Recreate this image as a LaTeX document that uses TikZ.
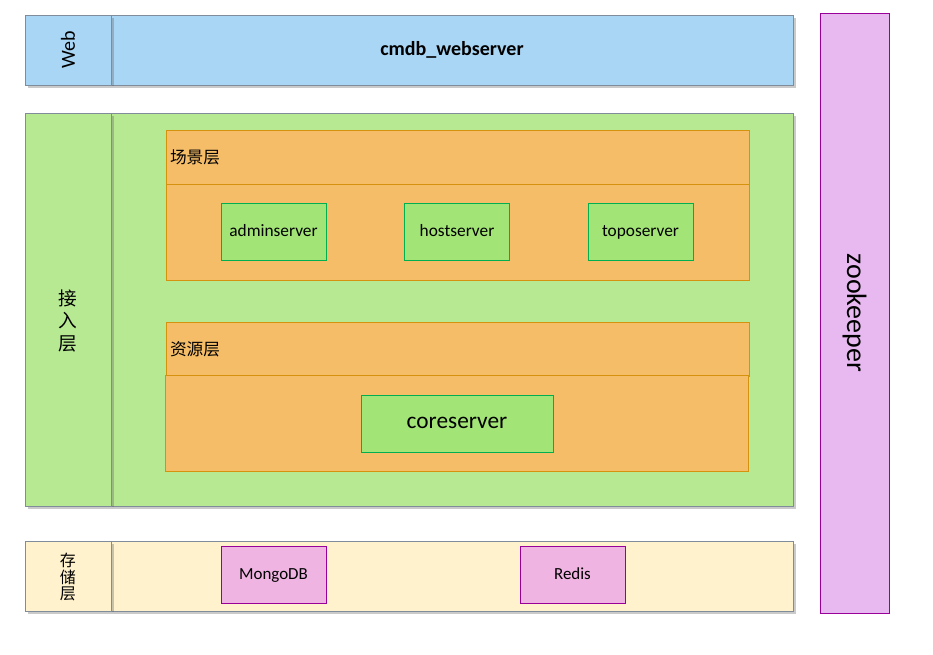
\documentclass[tikz,border=0pt]{standalone}
\usepackage{fontspec}
\setmainfont{Carlito}
\newfontfamily\cjk{Noto Sans CJK SC}
\usetikzlibrary{shadows}
\definecolor{webblue}{RGB}{169,214,245}
\definecolor{accgreen}{RGB}{183,232,146}
\definecolor{layerorange}{RGB}{245,189,104}
\definecolor{srvgreen}{RGB}{163,228,118}
\definecolor{storeyellow}{RGB}{255,242,204}
\definecolor{dbpink}{RGB}{239,180,226}
\definecolor{zkpink}{RGB}{232,185,240}
\definecolor{bandline}{RGB}{128,140,154}
\definecolor{orangeline}{RGB}{212,146,15}
\definecolor{srvline}{RGB}{0,176,80}
\definecolor{purpleline}{RGB}{153,0,153}
\newcommand*\labelwd{64.5pt}
\newcommand*\mainwd {511.5pt}
\newcommand*\layerwd{437.25pt}
\tikzset{
    band/.style      = {draw=bandline, inner sep=0pt, outer sep=0pt,
                        drop shadow={shadow xshift=2.5pt, shadow yshift=-2.5pt,
                                     opacity=0.35, fill=black!60}},
    bandlabel/.style = {band, minimum width=\labelwd},
    bandmain/.style  = {band, minimum width=\mainwd},
    layer/.style     = {draw=orangeline, fill=layerorange, inner sep=0pt,
                        minimum width=\layerwd},
    layertitle/.style= {anchor=west, inner sep=3pt, font=\cjk\fontsize{12.5}{14}\selectfont},
    server/.style    = {draw=srvline, fill=srvgreen, minimum width=78.75pt,
                        minimum height=42.75pt, inner sep=0pt,
                        text height=2ex, text depth=0.3ex,
                        font=\fontsize{13}{15}\selectfont},
    store/.style     = {server, draw=purpleline, fill=dbpink,
                        font=\fontsize{12.7}{15}\selectfont},
  }
\begin{document}
\begin{tikzpicture}[x=0.75pt,y=-0.75pt]
      \useasboundingbox (0,0) rectangle (933,655);

      % Web band
      \node (webmain) [bandmain, fill=webblue, minimum height=52.5pt,
        font=\bfseries\fontsize{15}{17}\selectfont] at (452,50) {cmdb\_webserver};
      \node (weblabel) [bandlabel, fill=webblue, minimum height=52.5pt] at (68,50) {};
      \node [rotate=90, font=\fontsize{15}{17}\selectfont] at (weblabel) {Web};

      % access band
      \node (accmain) [bandmain, fill=accgreen, minimum height=294.75pt] at (452,309.5) {};
      \node (acclabel) [bandlabel, fill=accgreen, minimum height=294.75pt] at (68,309.5) {};
      \node [align=center, font=\cjk\fontsize{14}{17}\selectfont] at (68,321) {接\\入\\层};

      % scene layer
      \node (scenehead) [layer, minimum height=40.5pt] at (457.5,157) {};
      \node (scenebody) [layer, minimum height=72pt] at (457.5,232) {};
      \node [layertitle] at (scenehead.west) {场景层};
      \node (admin) [server] at (273.5,231.5) {adminserver};
      \node (host)  [server] at (457,231.5)   {hostserver};
      \node (topo)  [server] at (640.5,231.5) {toposerver};

      % resource layer
      \node (reshead) [layer, minimum height=40.5pt] at (457.5,349) {};
      \node (resbody) [layer, minimum height=72pt] at (456.5,423) {};
      \node [layertitle] at (reshead.west) {资源层};
      \node (core) [server, minimum width=144pt,
        font=\fontsize{17.5}{20}\selectfont] at (457,423.5) {coreserver};

      % storage band
      \node (storemain) [bandmain, fill=storeyellow, minimum height=52.5pt] at (452,576) {};
      \node (storelabel) [bandlabel, fill=storeyellow, minimum height=52.5pt] at (68,576) {};
      \node [align=center, font=\cjk\fontsize{12}{12.5}\selectfont] at (68,577) {存\\储\\层};
      \node (mongo) [store] at (273.5,574.5) {MongoDB};
      \node (redis) [store] at (572.5,574.5) {Redis};

      % zookeeper
      \node (zk) [draw=purpleline, fill=zkpink, minimum width=51.75pt,
        minimum height=450pt, inner sep=0pt] at (854.5,313) {};
      \node [rotate=-90, font=\fontsize{21}{23}\selectfont] at (zk) {zookeeper};
    \end{tikzpicture}
\end{document}
